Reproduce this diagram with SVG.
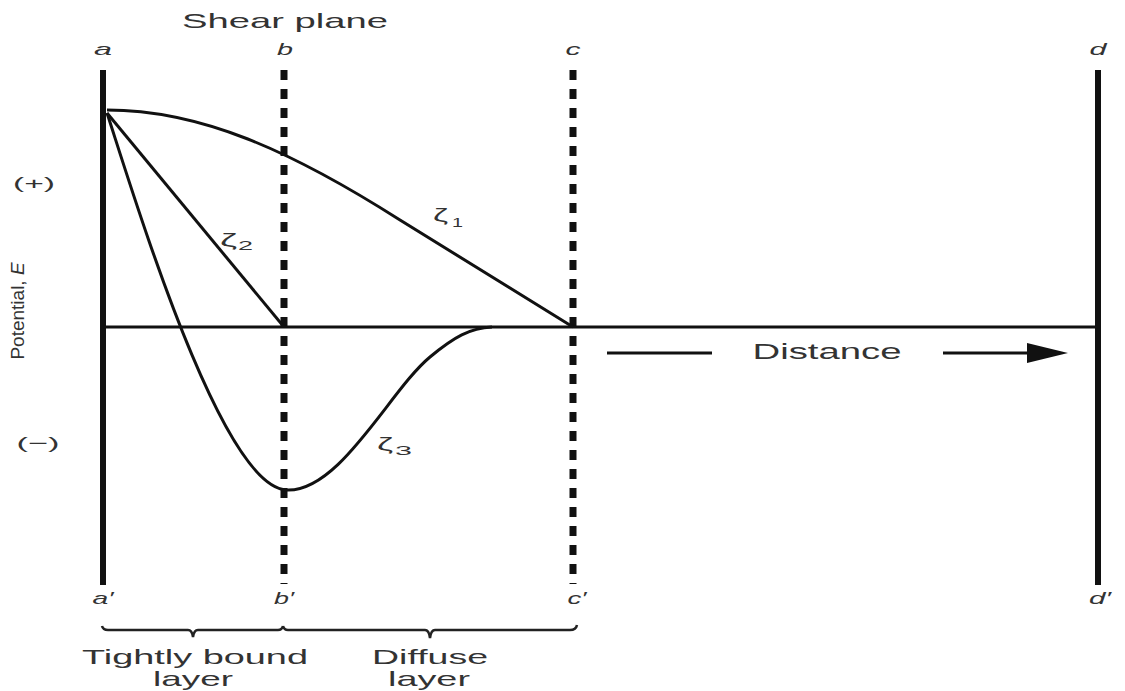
<svg xmlns="http://www.w3.org/2000/svg" width="1125" height="691" viewBox="0 0 1125 691">
<style>
text{font-family:"Liberation Sans",Arial,sans-serif;fill:#333}
.lab{font-size:17px;font-style:italic;text-anchor:middle}
.solid{stroke:#111;stroke-width:6;fill:none}
.dash{stroke:#111;stroke-width:7;stroke-dasharray:10 9;fill:none}
.curve{stroke:#111;stroke-width:3;fill:none}
.brace{stroke:#222;stroke-width:2.5;fill:none}
.big{font-size:22px;text-anchor:middle}
.bot{font-size:21px;text-anchor:middle}
.z{font-size:18px}
.sub{font-size:13px}
</style>
<rect width="1125" height="691" fill="#fff"/>
<g id="boundaries">
<g id="plane-a"><line class="solid" x1="103" y1="70" x2="103" y2="585"/><text class="lab" x="103" y="55" textLength="18" lengthAdjust="spacingAndGlyphs">a</text><text class="lab" x="103" y="604" textLength="21" lengthAdjust="spacingAndGlyphs">a′</text></g>
<g id="plane-b"><line class="dash" x1="284" y1="70" x2="284" y2="584"/><text class="lab" x="285" y="55" textLength="16" lengthAdjust="spacingAndGlyphs">b</text><text class="lab" x="284" y="604" textLength="20" lengthAdjust="spacingAndGlyphs">b′</text><text x="285" y="28" style="font-size:21px;text-anchor:middle" textLength="206" lengthAdjust="spacingAndGlyphs">Shear plane</text></g>
<g id="plane-c"><line class="dash" x1="573" y1="70" x2="573" y2="584"/><text class="lab" x="573" y="55" textLength="15" lengthAdjust="spacingAndGlyphs">c</text><text class="lab" x="577" y="604" textLength="19" lengthAdjust="spacingAndGlyphs">c′</text></g>
<g id="plane-d"><line class="solid" x1="1098" y1="70" x2="1098" y2="585"/><text class="lab" x="1098" y="55" textLength="17" lengthAdjust="spacingAndGlyphs">d</text><text class="lab" x="1100" y="604" textLength="22" lengthAdjust="spacingAndGlyphs">d′</text></g>
</g>
<g id="axis">
<line class="curve" x1="103" y1="327" x2="1098" y2="327"/>
<text x="34" y="189" style="font-size:17px;text-anchor:middle" textLength="42" lengthAdjust="spacingAndGlyphs">(+)</text>
<text x="38" y="449" style="font-size:17px;text-anchor:middle" textLength="43" lengthAdjust="spacingAndGlyphs">(−)</text>
<text transform="translate(24,311) rotate(-90)" style="font-size:19px;text-anchor:middle">Potential, <tspan style="font-style:italic">E</tspan></text>
</g>
<g id="connectors">
<path id="zeta1" class="curve" d="M107,110 C200,110 290,150 400,220 L573,327"/>
<path id="zeta2" class="curve" d="M107,113 L284,327"/>
<path id="zeta3" class="curve" d="M107,113 C137,205 222,488 287,490 C340,492 390,390 430,357 C454,337 470,328 492,327"/>
<line class="curve" x1="607" y1="353" x2="712" y2="353"/>
<line class="curve" x1="943" y1="353" x2="1030" y2="353"/>
<polygon points="1027,343 1068,353 1027,363" fill="#111"/>
</g>
<g id="zeta-labels">
<text class="z" x="433" y="221" textLength="15" lengthAdjust="spacingAndGlyphs">ζ</text><text class="sub" x="452" y="227" textLength="11" lengthAdjust="spacingAndGlyphs">1</text>
<text class="z" x="220" y="246" textLength="17" lengthAdjust="spacingAndGlyphs">ζ</text><text class="sub" x="238" y="250" textLength="15" lengthAdjust="spacingAndGlyphs">2</text>
<text class="z" x="377" y="450" textLength="16" lengthAdjust="spacingAndGlyphs">ζ</text><text class="sub" x="395" y="455" textLength="17" lengthAdjust="spacingAndGlyphs">3</text>
</g>
<text class="big" x="827" y="359" textLength="149" lengthAdjust="spacingAndGlyphs">Distance</text>
<g id="brace-tight">
<path class="brace" d="M102,626 Q103,630 108,630 L188,630 Q192,630 193,637 Q194,630 198,630 L278,630 Q282,630 283,626"/>
<text class="bot" x="195" y="664" textLength="226" lengthAdjust="spacingAndGlyphs">Tightly bound</text>
<text class="bot" x="193" y="686" textLength="80" lengthAdjust="spacingAndGlyphs">layer</text>
</g>
<g id="brace-diffuse">
<path class="brace" d="M283,626 Q284,630 288,630 L425,630 Q429,630 430,638 Q431,630 435,630 L570,630 Q576,630 577,625"/>
<text class="bot" x="430" y="664" textLength="116" lengthAdjust="spacingAndGlyphs">Diffuse</text>
<text class="bot" x="429" y="686" textLength="82" lengthAdjust="spacingAndGlyphs">layer</text>
</g>
</svg>
